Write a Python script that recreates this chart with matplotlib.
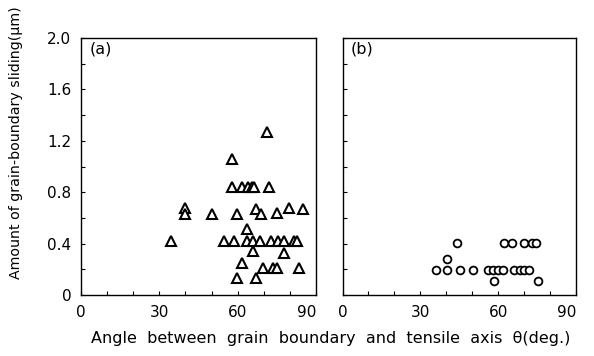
import matplotlib
matplotlib.use('Agg')
import matplotlib.pyplot as plt
from matplotlib.ticker import MultipleLocator

plt.rcParams['font.family'] = 'DejaVu Sans'

# (a) triangles: angle (deg), sliding (um)
theta_a = [57.8, 57.8, 61.8, 64.1, 65.4, 66.3, 72.0,
           39.8, 39.8, 50.1, 59.9, 66.9, 68.9, 75.0, 79.7, 84.9,
           63.7,
           34.6, 54.8, 58.7, 63.7, 65.9, 68.6, 72.7, 75.4, 77.7, 81.7, 82.8,
           66.0, 77.7, 61.8,
           69.8, 73.4, 75.2, 83.6,
           59.9, 66.9, 71.1]
slide_a = [1.06, 0.84, 0.84, 0.84, 0.84, 0.84, 0.84,
           0.68, 0.63, 0.63, 0.63, 0.67, 0.63, 0.64, 0.68, 0.67,
           0.51,
           0.42, 0.42, 0.42, 0.42, 0.42, 0.42, 0.42, 0.42, 0.42, 0.42, 0.42,
           0.34, 0.33, 0.25,
           0.21, 0.21, 0.21, 0.21,
           0.135, 0.135, 1.27]

# (b) circles
theta_b = [44.3, 62.3, 65.3, 70.1, 73.2, 74.5,
           40.2,
           36.0, 40.2, 45.3, 50.2, 56.2, 58.1, 60.1, 62.0, 66.0, 68.5, 70.0, 71.9,
           58.3, 75.3]
slide_b = [0.405, 0.405, 0.405, 0.405, 0.405, 0.405,
           0.28,
           0.195, 0.195, 0.195, 0.195, 0.195, 0.195, 0.195, 0.195, 0.195, 0.195, 0.195, 0.195,
           0.11, 0.11]

fig = plt.figure(figsize=(5.94, 3.56), dpi=100)
ax1 = fig.add_axes([0.1364, 0.1713, 0.3956, 0.722])
ax2 = fig.add_axes([0.5766, 0.1713, 0.3931, 0.722])

ax1.plot(theta_a, slide_a, linestyle='none', marker='^', markersize=6.5,
         markerfacecolor='white', markeredgecolor='black', markeredgewidth=1.5)
ax2.plot(theta_b, slide_b, linestyle='none', marker='o', markersize=5.6,
         markerfacecolor='white', markeredgecolor='black', markeredgewidth=1.3)

for ax, lab in [(ax1, '(a)'), (ax2, '(b)')]:
    ax.set_xlim(0, 90)
    ax.set_ylim(0, 2.0)
    ax.set_xticks([0, 30, 60, 90])
    ax.xaxis.set_minor_locator(MultipleLocator(10))
    ax.set_yticks([0, 0.4, 0.8, 1.2, 1.6, 2.0])
    ax.yaxis.set_minor_locator(MultipleLocator(0.2))
    ax.tick_params(which='both', direction='in', length=3, width=0.8,
                   labelsize=11, pad=7)
    for s in ax.spines.values():
        s.set_linewidth(1.0)
    ax.text(0.035, 0.985, lab, transform=ax.transAxes, ha='left', va='top',
            fontsize=11.5)
    ax.set_xticklabels(['0', '30', '60', '90'])
    ax.get_xticklabels()[-1].set_horizontalalignment('right')

ax1.set_yticklabels(['0', '0.4', '0.8', '1.2', '1.6', '2.0'])
ax2.set_yticklabels([])

fig.text(0.027, 0.598, 'Amount of grain-boundary sliding(μm)', rotation=90,
         ha='center', va='center', fontsize=10.2)
fig.text(0.556, 0.05, 'Angle  between  grain  boundary  and  tensile  axis  θ(deg.)',
         ha='center', va='center', fontsize=11.5)

fig.savefig('out.png', dpi=100)
